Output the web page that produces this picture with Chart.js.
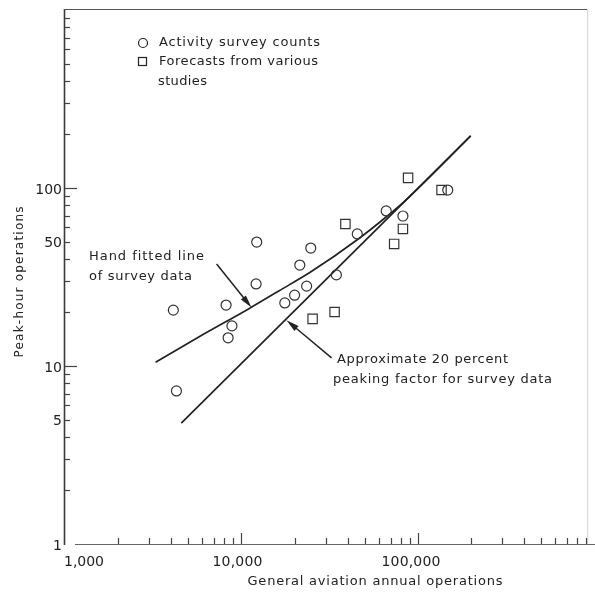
<!DOCTYPE html>
<html><head><meta charset="utf-8">
<script src="https://cdn.jsdelivr.net/npm/chart.js@4/dist/chart.umd.min.js"></script>
<style>html,body{margin:0;padding:0;background:#fff}#wrap{width:595px;height:594px}</style>
</head><body><div id="wrap"><canvas id="c" width="595" height="594"></canvas></div>
<script>
// ---- data (log-log axes) ----
const surveyX = [4110, 4280, 8180, 8830, 8400, 12200, 12100, 17600, 20000, 23400, 21400, 24700, 34500, 45300, 66100, 82200, 147500];
const surveyY = [20.6, 7.24, 22.0, 16.8, 14.4, 49.7, 28.9, 22.6, 25.0, 28.1, 36.9, 46.0, 32.5, 55.2, 74.3, 69.6, 97.4];
const forecastX = [38800, 87900, 136000, 82200, 73300, 33700, 25300];
const forecastY = [62.8, 114, 97.4, 58.9, 48.5, 20.1, 18.4];
const fitX = [3260, 5760, 11020, 16270, 24630, 45900, 66000, 87850, 199000];
const fitY = [10.5, 14.6, 21.0, 26.4, 33.7, 51.7, 68.7, 87.8, 196];
const peakX = [4560, 199000];
const peakY = [4.78, 196];
const xTickValues = [1000, 10000, 100000];
const xTickLabels = ['1,000', '10,000', '100,000'];
const yTickValues = [1, 5, 10, 50, 100];
const yTickLabels = ['1', '5', '10', '50', '100'];
const xRange = [1000, 910000];
const yRange = [1, 1000];
const legendLabels = ['Activity survey counts', 'Forecasts from various', 'studies'];
const fitNote = ['Hand fitted line', 'of survey data'];
const peakNote = ['Approximate 20 percent', 'peaking factor for survey data'];
const xTitle = 'General aviation annual operations';
const yTitle = 'Peak-hour operations';
// arrow pointers in data coordinates [tailX, tailY, tipX, tipY]
const fitArrow = [7230, 37.4, 11400, 21.3];
const peakArrow = [32400, 11.1, 18000, 18.1];

const pts = (xs, ys) => xs.map((x, i) => ({x: x, y: ys[i]}));
const INK = '#222';
const FONT = '"DejaVu Sans"';

function drawText(ctx, s, x, y, size, target, align) {
  ctx.font = size + 'px ' + FONT;
  ctx.letterSpacing = '0px';
  const w = ctx.measureText(s).width;
  let ls = 0;
  if (target && s.length > 1) ls = (target - w) / (s.length - 1);
  ctx.letterSpacing = ls + 'px';
  const tw = w + ls * (s.length - 1);
  let lx = x;
  if (align === 'right') lx = x - tw;
  else if (align === 'center') lx = x - tw / 2;
  ctx.textAlign = 'left';
  ctx.textBaseline = 'middle';
  ctx.fillText(s, lx, y);
  ctx.letterSpacing = '0px';
}

function arrow(ctx, x1, y1, x2, y2) {
  const ang = Math.atan2(y2 - y1, x2 - x1);
  const L = 13, H = 3.2;
  ctx.beginPath();
  ctx.moveTo(x1, y1);
  ctx.lineTo(x2 - Math.cos(ang) * (L - 2), y2 - Math.sin(ang) * (L - 2));
  ctx.lineWidth = 1.5;
  ctx.strokeStyle = INK;
  ctx.stroke();
  ctx.beginPath();
  ctx.moveTo(x2, y2);
  ctx.lineTo(x2 - Math.cos(ang) * L - Math.sin(ang) * H, y2 - Math.sin(ang) * L + Math.cos(ang) * H);
  ctx.lineTo(x2 - Math.cos(ang) * L + Math.sin(ang) * H, y2 - Math.sin(ang) * L - Math.cos(ang) * H);
  ctx.closePath();
  ctx.fillStyle = INK;
  ctx.fill();
}

const decor = {
  id: 'decor',
  afterDraw(chart) {
    const ctx = chart.ctx;
    const xs = chart.scales.x, ys = chart.scales.y;
    const a = chart.chartArea;
    ctx.save();
    // frame
    ctx.strokeStyle = '#3a3a3a';
    ctx.lineWidth = 1.6;
    ctx.beginPath(); ctx.moveTo(a.left - 0.5, a.top - 1); ctx.lineTo(a.left - 0.5, a.bottom + 1); ctx.stroke();
    ctx.strokeStyle = '#555';
    ctx.lineWidth = 1.2;
    ctx.beginPath(); ctx.moveTo(a.left - 1, a.top - 0.5); ctx.lineTo(a.right, a.top - 0.5); ctx.stroke();
    ctx.strokeStyle = '#666';
    ctx.beginPath(); ctx.moveTo(a.left + 10, a.bottom + 0.5); ctx.lineTo(chart.width, a.bottom + 0.5); ctx.stroke();
    ctx.strokeStyle = '#d0d0d0';
    ctx.lineWidth = 1;
    ctx.beginPath(); ctx.moveTo(a.right + 0.5, a.top); ctx.lineTo(a.right + 0.5, a.bottom); ctx.stroke();

    // y ticks (inward)
    ctx.strokeStyle = '#444';
    ctx.lineWidth = 1.2;
    for (let d = 1; d < 1000; d *= 10) {
      for (let k = 1; k <= 9; k++) {
        const v = d * k;
        if (v === 1) continue;
        const py = Math.round(ys.getPixelForValue(v)) + 0.5;
        const len = (k === 1) ? 12 : 5;
        ctx.beginPath(); ctx.moveTo(a.left, py); ctx.lineTo(a.left + len, py); ctx.stroke();
      }
    }
    // x ticks (upward)
    for (let d = 1000; d < 1e6; d *= 10) {
      for (let k = 1; k <= 9; k++) {
        const v = d * k;
        if (v === 1000 || v > xRange[1]) continue;
        const px = Math.round(xs.getPixelForValue(v)) + 0.5;
        const len = (k === 1) ? 11 : 6;
        ctx.beginPath(); ctx.moveTo(px, a.bottom); ctx.lineTo(px, a.bottom - len); ctx.stroke();
      }
    }

    ctx.fillStyle = INK;
    // y tick labels
    yTickValues.forEach((v, i) => {
      const py = ys.getPixelForValue(v) + 2;
      drawText(ctx, yTickLabels[i], a.left - 3, py, 14, 0, 'right');
    });
    // x tick labels
    const xShift = [19, -4, -7];
    const xW = [40, 50, 59];
    xTickValues.forEach((v, i) => {
      const px = xs.getPixelForValue(v) + xShift[i];
      drawText(ctx, xTickLabels[i], px, a.bottom + 18, 14, xW[i], 'center');
    });
    // axis titles
    drawText(ctx, xTitle, 375, 582, 13, 255, 'center');
    ctx.save();
    ctx.translate(20, 282);
    ctx.rotate(-Math.PI / 2);
    drawText(ctx, yTitle, 0, 0, 12, 151, 'center');
    ctx.restore();

    // legend
    ctx.strokeStyle = INK;
    ctx.lineWidth = 1.2;
    ctx.beginPath(); ctx.arc(143, 43, 4.5, 0, Math.PI * 2); ctx.stroke();
    ctx.strokeRect(138.5, 57.5, 8, 8);
    drawText(ctx, legendLabels[0], 159, 43, 13, 161, 'left');
    drawText(ctx, legendLabels[1], 159, 62, 13, 159, 'left');
    drawText(ctx, legendLabels[2], 158, 82, 13, 49, 'left');

    // annotations
    drawText(ctx, fitNote[0], 89, 257, 13, 115, 'left');
    drawText(ctx, fitNote[1], 89, 277, 13, 103, 'left');
    drawText(ctx, peakNote[0], 337, 360, 13, 171, 'left');
    drawText(ctx, peakNote[1], 333, 380, 13, 219, 'left');

    arrow(ctx, xs.getPixelForValue(fitArrow[0]), ys.getPixelForValue(fitArrow[1]),
               xs.getPixelForValue(fitArrow[2]), ys.getPixelForValue(fitArrow[3]));
    arrow(ctx, xs.getPixelForValue(peakArrow[0]), ys.getPixelForValue(peakArrow[1]),
               xs.getPixelForValue(peakArrow[2]), ys.getPixelForValue(peakArrow[3]));
    ctx.restore();
  }
};

new Chart(document.getElementById('c'), {
  type: 'scatter',
  data: {
    datasets: [
      { label: 'Hand fitted line of survey data', type: 'line', data: pts(fitX, fitY),
        borderColor: INK, borderWidth: 1.7, pointRadius: 0, fill: false, cubicInterpolationMode: 'monotone', order: 3 },
      { label: 'Approximate 20 percent peaking factor', type: 'line', data: pts(peakX, peakY),
        borderColor: INK, borderWidth: 1.7, pointRadius: 0, fill: false, tension: 0, order: 4 },
      { label: 'Activity survey counts', data: pts(surveyX, surveyY), pointStyle: 'circle',
        pointRadius: 5, borderColor: '#333', borderWidth: 1.2, backgroundColor: 'rgba(0,0,0,0)', order: 1 },
      { label: 'Forecasts from various studies', data: pts(forecastX, forecastY), pointStyle: 'rect',
        pointRadius: 6.6, borderColor: '#333', borderWidth: 1.2, backgroundColor: 'rgba(0,0,0,0)', order: 2 }
    ]
  },
  options: {
    responsive: false,
    animation: false,
    devicePixelRatio: 1,
    layout: { padding: { left: 65, top: 10, right: 5, bottom: 50 } },
    plugins: { legend: { display: false }, tooltip: { enabled: false } },
    scales: {
      x: { type: 'logarithmic', min: xRange[0], max: xRange[1], display: false },
      y: { type: 'logarithmic', min: yRange[0], max: yRange[1], display: false }
    }
  },
  plugins: [decor]
});
</script>
</body></html>
